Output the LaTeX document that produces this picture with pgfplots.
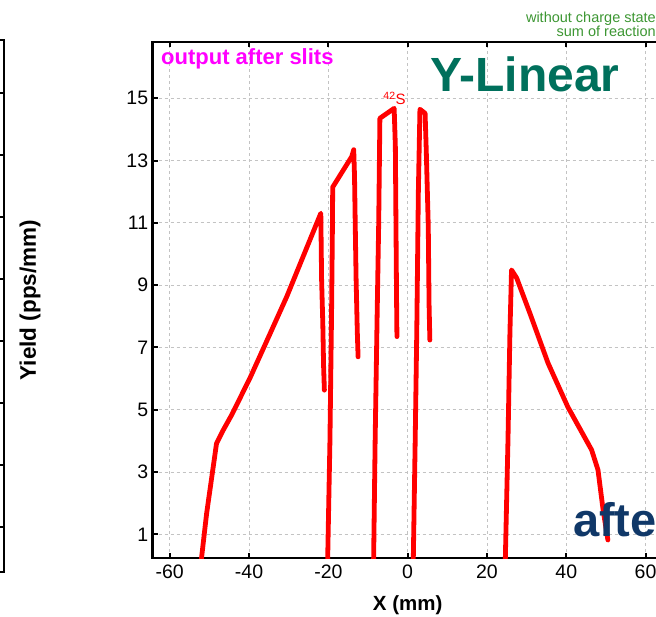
\documentclass[border=0pt]{standalone}
\usepackage{pgfplots}
\pgfplotsset{compat=1.18}
\usepackage{fontspec}
\setmainfont{Liberation Sans}
\definecolor{gridgray}{RGB}{195,195,195}
\definecolor{tealtxt}{RGB}{0,112,92}
\definecolor{navytxt}{RGB}{16,56,104}
\definecolor{greentxt}{RGB}{60,150,50}
\definecolor{magtxt}{RGB}{255,0,255}
\definecolor{pured}{RGB}{255,0,0}
\begin{document}
\begin{tikzpicture}[x=1pt,y=1pt]
\useasboundingbox (0,0) rectangle (656,616);
% fragment of the neighbouring panel (left edge)
\begin{axis}[at={(4pt,44pt)}, anchor=south east, scale only axis,
  width=120pt, height=532pt, xmin=0, xmax=1, ymin=0, ymax=532,
  xtick=\empty, ytick={45,107,169,231,293,355,417,479}, yticklabels={},
  ytick pos=right, tick align=inside, major tick length=4pt,
  axis line style={line width=2.5pt}, every tick/.style={black,line width=2pt}]
\end{axis}
\begin{axis}[at={(152.7pt,58pt)}, anchor=south west, scale only axis,
  width=509.9pt, height=516pt,
  xmin=-64.3, xmax=64.3, ymin=0.24, ymax=16.81,
  xtick={-60,-40,-20,0,20,40,60}, ytick={1,3,5,7,9,11,13,15},
  ytick pos=left, xtick pos=both,
  tick align=inside, major tick length=5pt,
  every tick/.style={black,line width=2pt},
  axis line style={line width=2.5pt},
  grid=major, major grid style={gridgray, dash pattern=on 3pt off 3pt, line width=0.9pt},
  /pgf/number format/assume math mode=true,
  ticklabel style={font=\fontsize{19.5}{22}\selectfont},
  xticklabel style={yshift=-3pt},
  yticklabel style={xshift=-1pt},
  xlabel={\textbf{X (mm)}}, ylabel={\textbf{Yield (pps/mm)}},
  every axis x label/.style={at={(axis description cs:0.5,0)}, anchor=center, yshift=-47pt, font=\fontsize{20.5}{24}\selectfont},
  every axis y label/.style={at={(axis description cs:-0.2406,0.5)}, anchor=center, rotate=90, font=\fontsize{22.5}{26}\selectfont},
  yieldline/.style={pured, line width=4.8pt, line join=round, line cap=round, mark=none},
  clip=true]
\addplot[yieldline] coordinates {(-52.2,0.0) (-50.7,1.67) (-48.2,3.92) (-46.5,4.35) (-44.4,4.83) (-39.8,6.01) (-35.6,7.19) (-30.5,8.63) (-21.9,11.31) (-21.7,9.17) (-21.4,7.78) (-21.2,6.4) (-21.0,5.63)};
\addplot[yieldline] coordinates {(-20.2,0.0) (-19.6,4.0) (-19.2,8.0) (-19.0,10.5) (-18.9,12.15) (-14.1,13.13) (-13.6,13.35) (-13.4,12.5) (-13.2,10.8) (-13.0,9.2) (-12.7,7.5) (-12.5,6.7)};
\addplot[yieldline] coordinates {(-8.6,0.0) (-8.2,4.0) (-7.7,8.0) (-7.3,11.0) (-7.0,14.36) (-3.4,14.68) (-3.1,13.45) (-2.95,11.0) (-2.8,8.6) (-2.7,7.35)};
\addplot[yieldline] coordinates {(1.4,0.0) (1.9,4.0) (2.3,7.5) (2.7,12.0) (3.1,14.65) (4.4,14.52) (4.7,13.3) (5.2,10.9) (5.4,8.4) (5.6,7.24)};
\addplot[yieldline] coordinates {(24.6,0.0) (25.3,4.0) (25.8,7.5) (26.2,9.49) (27.5,9.23) (30.8,8.11) (35.4,6.5) (40.4,5.09) (46.4,3.71) (48.0,3.07) (49.3,1.78) (50.5,0.82)};
\node[pured, font=\fontsize{15}{17}\selectfont, inner sep=0pt] at (axis cs:-3.3,15.0) {\textsuperscript{42}S};
\end{axis}
\node[anchor=base west, inner sep=0pt, text=magtxt, font=\bfseries\fontsize{22}{25}\selectfont] at (161,551) {output after slits};
\node[anchor=base west, inner sep=0pt, text=tealtxt, font=\bfseries\fontsize{48}{54}\selectfont] at (430,524) {Y-Linear};
\node[anchor=base west, inner sep=0pt, text=navytxt, font=\bfseries\fontsize{47}{54}\selectfont] at (573,79) {afte};
\node[anchor=base east, inner sep=0pt, text=greentxt, font=\fontsize{14.5}{16}\selectfont] at (656,593) {without charge state};
\node[anchor=base east, inner sep=0pt, text=greentxt, font=\fontsize{14.5}{16}\selectfont] at (656,579) {sum of reaction};
\end{tikzpicture}
\end{document}
